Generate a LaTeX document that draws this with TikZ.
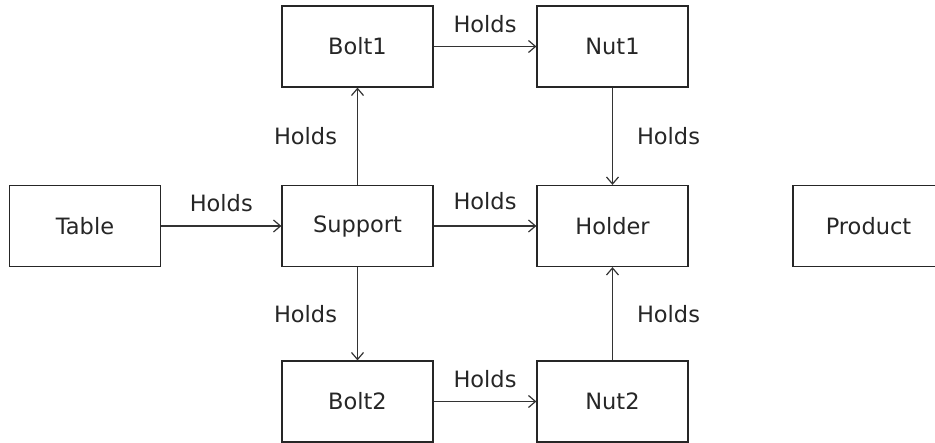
\documentclass[tikz,border=0pt]{standalone}
\usepackage{fontspec}
\setmainfont{DejaVu Sans}
\usetikzlibrary{arrows.meta}
\begin{document}
\begin{tikzpicture}[x=1pt,y=-1pt,
  part/.style={draw=black!85, line width=1.2pt, minimum width=151pt, minimum height=81pt,
    inner sep=0pt, font=\fontsize{22.5}{26}\selectfont, text=black!85},
  link/.style={draw=black!80, line width=1.2pt, -{Straight Barb[length=7pt,width=12pt,line width=1.2pt]}},
  rel/.style={font=\fontsize{22.5}{26}\selectfont, text=black!85, inner sep=0pt}]
  \useasboundingbox[fill=white] (0,0) rectangle (935,443);

  % parts of the fixture
  \node[part] (table)   at (85,226)    {Table};
  \node[part] (support) at (357.5,226) {Support};
  \node[part] (holder)  at (612.5,226) {Holder};
  \node[part] (product) at (868.5,226) {Product};
  \node[part] (bolt1)   at (357.5,46.5)  {Bolt1};
  \node[part] (nut1)    at (612.5,46.5)  {Nut1};
  \node[part] (bolt2)   at (357.5,401.5) {Bolt2};
  \node[part] (nut2)    at (612.5,401.5) {Nut2};

  % holding relations
  \draw[link] (table) -- node[rel, midway, yshift=23pt] {Holds} (support);
  \draw[link] (support) -- node[rel, midway, yshift=25pt] {Holds} (holder);
  \draw[link] (bolt1) -- node[rel, midway, yshift=22pt] {Holds} (nut1);
  \draw[link] (bolt2) -- node[rel, midway, yshift=22pt] {Holds} (nut2);
  \draw[link] (support) -- node[rel, midway, xshift=-52pt] {Holds} (bolt1);
  \draw[link] (support) -- node[rel, midway, xshift=-52pt] {Holds} (bolt2);
  \draw[link] (nut1) -- node[rel, midway, xshift=56pt] {Holds} (holder);
  \draw[link] (nut2) -- node[rel, midway, xshift=56pt] {Holds} (holder);
\end{tikzpicture}
\end{document}
